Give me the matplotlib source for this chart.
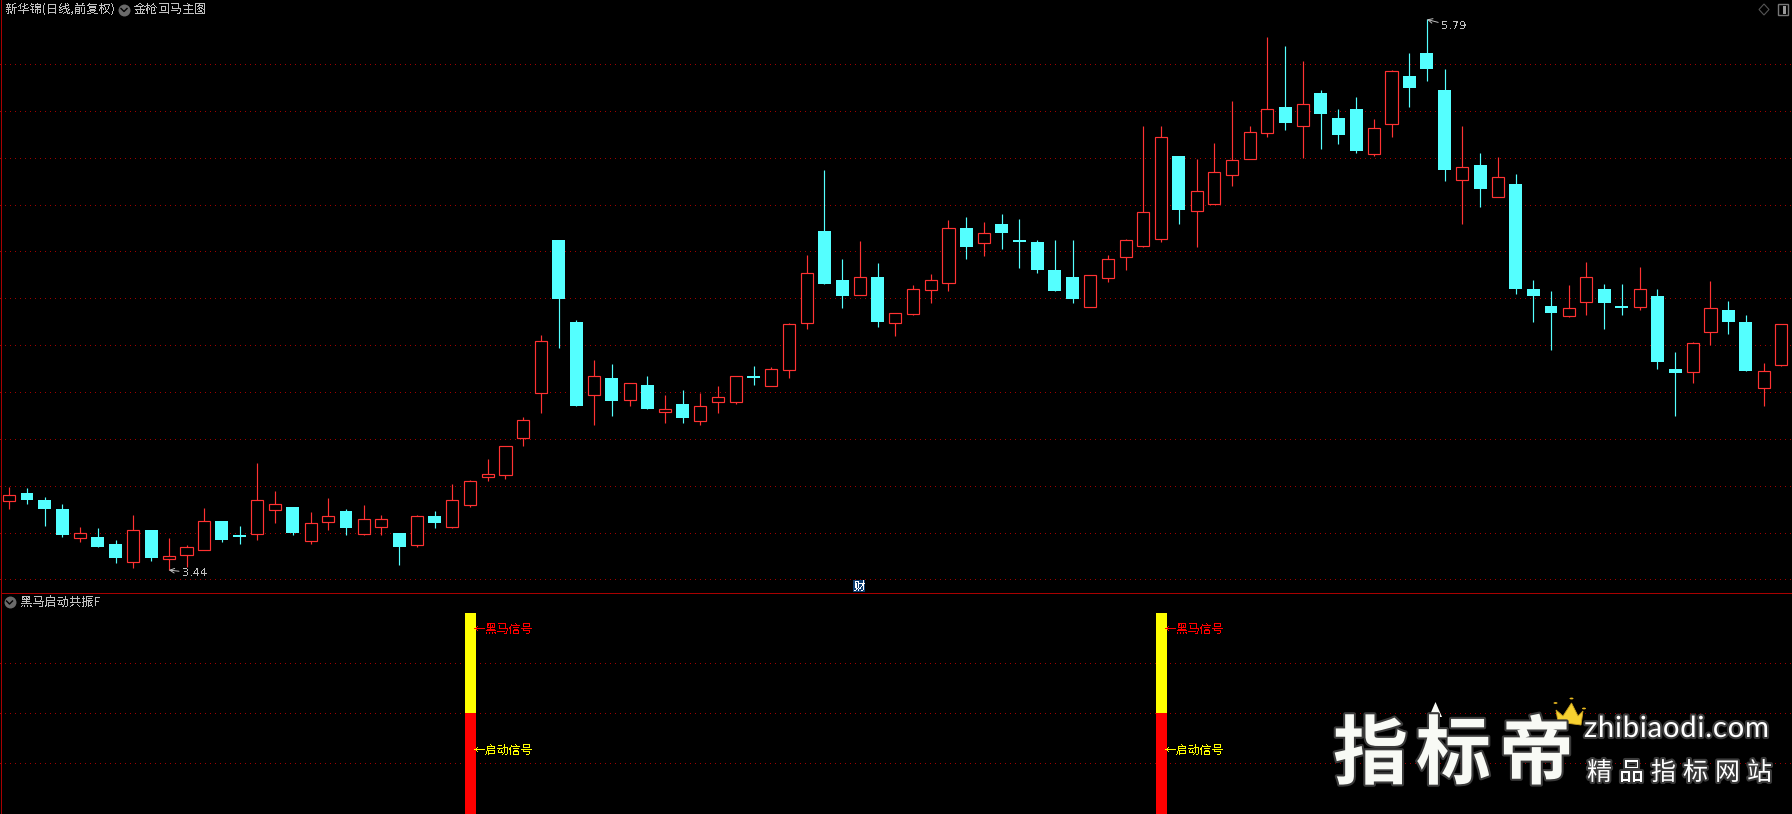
import numpy as np
import matplotlib
matplotlib.use("Agg")
import matplotlib.pyplot as plt
from matplotlib.patches import Polygon, Circle, Rectangle
import matplotlib.patheffects as pe

plt.rcParams['font.family'] = ['Noto Sans CJK SC', 'DejaVu Sans']
plt.rcParams['lines.dash_capstyle'] = 'butt'

# daily prices (low 3.44, high 5.79)
opens = [3.736,3.769,3.739,3.700,3.578,3.581,3.551,3.476,3.611,3.488,
         3.505,3.527,3.649,3.590,3.596,3.698,3.709,3.565,3.646,3.692,
         3.595,3.625,3.598,3.547,3.671,3.625,3.719,3.839,3.847,4.005,
         4.197,4.849,4.499,4.188,4.260,4.167,4.230,4.116,4.149,4.077,
         4.159,4.159,4.268,4.227,4.295,4.496,4.887,4.678,4.615,4.691,
         4.496,4.534,4.637,4.666,4.900,4.837,4.917,4.849,4.840,4.721,
         4.691,4.564,4.688,4.777,4.824,4.854,5.207,4.974,5.004,5.127,
         5.196,5.307,5.416,5.336,5.476,5.369,5.408,5.217,5.345,5.549,
         5.647,5.489,5.106,5.169,5.034,5.088,4.640,4.567,4.526,4.585,
         4.640,4.567,4.564,4.610,4.298,4.287,4.457,4.550,4.499,4.218,
         4.316]
closes = [3.759,3.739,3.700,3.590,3.597,3.538,3.491,3.610,3.491,3.499,
          3.537,3.648,3.568,3.581,3.738,3.721,3.598,3.640,3.669,3.619,
          3.657,3.657,3.538,3.669,3.641,3.738,3.819,3.849,3.968,4.079,
          4.416,4.597,4.140,4.267,4.162,4.237,4.127,4.126,4.089,4.139,
          4.177,4.267,4.260,4.297,4.489,4.707,4.661,4.610,4.689,4.499,
          4.536,4.638,4.677,4.899,4.819,4.877,4.879,4.840,4.721,4.631,
          4.597,4.698,4.766,4.847,4.967,5.287,4.977,5.056,5.138,5.189,
          5.308,5.406,5.348,5.428,5.386,5.297,5.228,5.325,5.569,5.497,
          5.579,5.147,5.159,5.066,5.116,4.640,4.610,4.537,4.557,4.689,
          4.580,4.558,4.638,4.328,4.281,4.408,4.557,4.499,4.290,4.288,
          4.489]
highs = [3.794,3.790,3.752,3.722,3.624,3.619,3.568,3.675,3.611,3.577,
         3.547,3.705,3.649,3.628,3.897,3.777,3.709,3.688,3.748,3.700,
         3.718,3.675,3.598,3.675,3.692,3.807,3.824,3.914,3.970,4.093,
         4.443,4.849,4.507,4.336,4.319,4.237,4.268,4.187,4.208,4.196,
         4.226,4.267,4.311,4.307,4.494,4.785,5.147,4.768,4.844,4.750,
         4.536,4.657,4.704,4.934,4.947,4.926,4.960,4.938,4.849,4.849,
         4.849,4.698,4.785,4.853,5.335,5.335,5.207,5.194,5.263,5.442,
         5.335,5.715,5.677,5.613,5.489,5.408,5.459,5.365,5.574,5.647,
         5.790,5.579,5.335,5.220,5.203,5.130,4.678,4.631,4.657,4.755,
         4.661,4.661,4.733,4.640,4.371,4.413,4.674,4.588,4.529,4.324,
         4.489]
lows = [3.700,3.722,3.628,3.581,3.560,3.538,3.470,3.449,3.479,3.440,
        3.453,3.527,3.561,3.551,3.568,3.641,3.590,3.551,3.611,3.590,
        3.590,3.590,3.462,3.540,3.619,3.619,3.709,3.821,3.830,3.970,
        4.110,4.388,4.140,4.059,4.098,4.140,4.127,4.068,4.068,4.059,
        4.110,4.149,4.230,4.227,4.260,4.469,4.661,4.558,4.615,4.477,
        4.439,4.529,4.580,4.631,4.768,4.780,4.810,4.729,4.708,4.631,
        4.580,4.564,4.669,4.721,4.819,4.840,4.917,4.819,5.004,5.079,
        5.196,5.288,5.318,5.199,5.237,5.258,5.220,5.207,5.288,5.416,
        5.527,5.101,4.917,4.990,5.034,4.618,4.499,4.379,4.520,4.529,
        4.469,4.529,4.550,4.298,4.098,4.238,4.401,4.447,4.290,4.140,
        4.312]
price_grid = [3.4,3.6,3.8,4.0,4.2,4.4,4.6,4.8,5.0,5.2,5.4,5.6]

# signal panel
signal_days = [26, 65]
signal_split = 2
signal_top = 4
signal_grid = [1, 2, 3]

W, H = 1792, 814
RED = '#ff3232'
CYAN = '#54ffff'
GRID = '#a00000'
GRAY = '#c0c0c0'
AXIS = '#a80000'
ONE_PX = 0.72
CANDLE_LW = 0.85


def fx(x):
    return x / W


def fy(y):
    return 1 - y / H


def screen_text(x, y, s, color=GRAY, size=8.8):
    t = fig.text(fx(x), fy(y), s, color=color, fontsize=size, va='center', ha='left')
    t.set_antialiased(False)
    return t


def dotted_grid(a):
    a.grid(axis='y', color=GRID, linewidth=ONE_PX, linestyle=(0, (1, 5)))
    for g in a.get_ygridlines():
        g.set_antialiased(False)
        g.set_snap(True)
    a.set_axisbelow(True)
    for s in a.spines.values():
        s.set_visible(False)


fig = plt.figure(figsize=(W / 100, H / 100), dpi=100, facecolor='black')

# price panel, y=0..593px
ax = fig.add_axes([0, fy(593), 1, 593 / H], facecolor='black')
ax.set_xlim(-0.525, 100.6)
ax.set_ylim(5.873 - 0.004268 * 593, 5.873)
ax.set_yticks(price_grid)
ax.set_xticks([])
ax.tick_params(length=0, labelleft=False)
dotted_grid(ax)

o = np.array(opens)
c = np.array(closes)
h = np.array(highs)
l = np.array(lows)
days = np.arange(len(o))
up = c > o
top = np.maximum(o, c)
bottom = np.minimum(o, c)

for y0, y1, mask, col in [(top, h, up, RED), (l, bottom, up, RED), (l, h, ~up, CYAN)]:
    wicks = ax.vlines(days[mask], y0[mask], y1[mask], color=col, linewidth=CANDLE_LW, zorder=2)
    wicks.set_snap(True)
ax.bar(days[up], top[up] - bottom[up], bottom=bottom[up], width=0.68, facecolor='black',
       edgecolor=RED, linewidth=CANDLE_LW, zorder=3)
ax.bar(days[~up], top[~up] - bottom[~up], bottom=bottom[~up], width=0.73, color=CYAN,
       linewidth=0, zorder=3)

# high / low marks
low_day = int(np.argmin(l))
high_day = int(np.argmax(h))
ann = ax.annotate(f"{l[low_day]:.2f}", xy=(low_day, l[low_day]), xytext=(13, -3),
                  textcoords='offset pixels', color=GRAY, fontsize=8.2, va='center',
                  family='DejaVu Sans',
                  arrowprops=dict(arrowstyle='->', color=GRAY, lw=0.7, shrinkA=0, shrinkB=0), zorder=5)
ann.set_antialiased(False)
ann = ax.annotate(f"{h[high_day]:.2f}", xy=(high_day, h[high_day]), xytext=(14, -7),
                  textcoords='offset pixels', color=GRAY, fontsize=8.2, va='center',
                  family='DejaVu Sans',
                  arrowprops=dict(arrowstyle='->', color=GRAY, lw=0.7, shrinkA=0, shrinkB=0), zorder=5)
ann.set_antialiased(False)

# signal panel, y=593..814px
ax2 = fig.add_axes([0, 0, 1, (H - 593) / H], facecolor='black')
ax2.set_xlim(-0.525, 100.6)
ax2.set_ylim(2 - (814 - 713.3) / 50, 2 + (713.3 - 593) / 50)
ax2.set_yticks(signal_grid)
ax2.set_xticks([])
ax2.tick_params(length=0, labelleft=False)
dotted_grid(ax2)

for d in signal_days:
    ax2.bar(d, signal_top - signal_split, bottom=signal_split, width=0.62, color='#ffff00')
    ax2.bar(d, signal_split + 0.1, bottom=-0.1, width=0.62, color='#ff0000')
    t = ax2.annotate("←黑马信号", xy=(d, 3.686), xytext=(3.5, 0), textcoords='offset pixels',
                     color='#ff0000', fontsize=8.6, va='center', zorder=5)
    t.set_antialiased(False)
    t = ax2.annotate("←启动信号", xy=(d, 1.266), xytext=(3.5, 0), textcoords='offset pixels',
                     color='#ffff00', fontsize=8.6, va='center', zorder=5)
    t.set_antialiased(False)

# frame lines
fig.add_artist(Rectangle((fx(1), fy(814)), 1 / W, 1, transform=fig.transFigure, color=AXIS, lw=0))
fig.add_artist(Rectangle((fx(2), fy(593.8)), 1, 1 / H, transform=fig.transFigure, color=AXIS, lw=0))

# header text
screen_text(5, 9.5, "新华锦(日线,前复权)")
screen_text(134, 9.5, "金枪回马主图")
screen_text(20, 602, "黑马启动共振F")


def chevron(x, y):
    fig.add_artist(plt.Line2D([fx(x)], [fy(y)], transform=fig.transFigure, marker='o',
                              markersize=8.6, color='#6a6a6a', markeredgewidth=0, lw=0))
    fig.add_artist(plt.Line2D([fx(x - 3), fx(x), fx(x + 3)], [fy(y - 1), fy(y + 2), fy(y - 1)],
                              transform=fig.transFigure, color='black', lw=1))


chevron(124, 9.5)
chevron(9.5, 602)

# corner icons
fig.add_artist(Polygon([(fx(1764), fy(4)), (fx(1769), fy(9.5)), (fx(1764), fy(15)), (fx(1759), fy(9.5))],
                       closed=True, fill=False, edgecolor='#555555', lw=0.8, transform=fig.transFigure))
fig.add_artist(Rectangle((fx(1778), fy(14.5)), 10 / W, 10 / H, fill=False, edgecolor='#777777', lw=1,
                         transform=fig.transFigure))
fig.add_artist(Rectangle((fx(1783), fy(13.5)), 3 / W, 8 / H, color='#999999', lw=0, transform=fig.transFigure))

# finance badge
fig.add_artist(Rectangle((fx(853), fy(592)), 12 / W, 12 / H, color='#0c3c70', lw=0, transform=fig.transFigure))
t = fig.text(fx(859), fy(586), "财", color='white', fontsize=8.2, ha='center', va='center')
t.set_antialiased(False)

# watermark
glow = [pe.withStroke(linewidth=3, foreground='#3a3a3a')]
for i, ch in enumerate("指标帝"):
    fig.text(fx(1333 + i * 83), fy(778), ch, color='#f8faf5', fontsize=54, fontweight='bold',
             ha='left', va='baseline', path_effects=glow)
fig.add_artist(Polygon([(fx(1435.5), fy(702)), (fx(1442), fy(717)), (fx(1438.5), fy(717)), (fx(1438.5), fy(730)),
                        (fx(1432.5), fy(730)), (fx(1432.5), fy(717)), (fx(1429), fy(717))], closed=True,
                       color='#f8faf5', lw=0, transform=fig.transFigure))

# letter spaced site name
fig.canvas.draw()
x_pos = 1584
for ch in "zhibiaodi.com":
    t = fig.text(fx(x_pos), fy(737), ch, color='white', fontsize=21, family='Lato',
                 ha='left', va='baseline', path_effects=glow)
    x_pos += t.get_window_extent(fig.canvas.get_renderer()).width + 0.8

for i, ch in enumerate("精品指标网站"):
    fig.text(fx(1587 + i * 32), fy(780), ch, color='white', fontsize=18,
             ha='left', va='baseline', path_effects=glow)

# crown
crown = [(1556, 710), (1563, 716), (1571.5, 703), (1578, 716), (1583, 711), (1581, 725), (1558, 722)]
fig.add_artist(Polygon([(fx(x), fy(y)) for x, y in crown], closed=True, facecolor='#f6d130',
                       edgecolor='#c9a01e', lw=0.6, transform=fig.transFigure))
for x, y in [(1555.5, 703), (1571.5, 698.5), (1584, 708.5)]:
    fig.add_artist(Circle((fx(x), fy(y)), 2 / W, color='#e8b820', lw=0, transform=fig.transFigure))

fig.savefig("out.png", dpi=100, facecolor='black')
